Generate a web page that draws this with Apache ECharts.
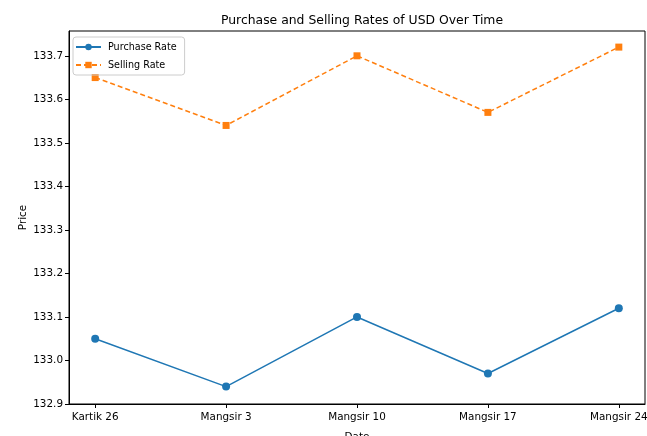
<!DOCTYPE html>
<html>
<head>
<meta charset="utf-8">
<script src="https://cdn.jsdelivr.net/npm/echarts@6/dist/echarts.min.js"></script>
<style>
  html, body { margin: 0; padding: 0; background: #fff; }
  #chart { width: 647px; height: 436px; }
</style>
</head>
<body>
<div id="chart"></div>
<script>
  var categories = ['Kartik 26', 'Mangsir 3', 'Mangsir 10', 'Mangsir 17', 'Mangsir 24'];
  var purchaseRate = [133.05, 132.94, 133.10, 132.97, 133.12];
  var sellingRate = [133.65, 133.54, 133.70, 133.57, 133.72];
  var yTicks = [132.9, 133.0, 133.1, 133.2, 133.3, 133.4, 133.5, 133.6, 133.7];

  var idx = categories.map(function (c, i) { return i; });
  function pairs(vals) {
    return vals.map(function (v, i) { return [i, v]; });
  }

  var font = 'DejaVu Sans';
  var myChart = echarts.init(document.getElementById('chart'));
  var option = {
    animation: false,
    title: {
      text: 'Purchase and Selling Rates of USD Over Time',
      left: 357,
      textAlign: 'center',
      top: 10,
      textStyle: { fontFamily: font, fontSize: 12.4, fontWeight: 'normal', color: '#000' }
    },
    legend: {
      orient: 'vertical',
      left: 73,
      top: 37,
      padding: [5, 8, 5, 2],
      itemWidth: 25,
      itemHeight: 8,
      itemGap: 8,
      borderColor: '#ccc',
      borderWidth: 1,
      borderRadius: 3,
      textStyle: { fontFamily: font, fontSize: 9.6, color: '#000', padding: [0, 0, 0, 2] },
      data: ['Purchase Rate', 'Selling Rate']
    },
    grid: {
      left: 69, right: 2, top: 31, bottom: 32,
      outerBoundsMode: 'none',
      show: true, borderColor: '#000', borderWidth: 1
    },
    xAxis: {
      type: 'value',
      min: -0.2,
      max: 4.2,
      name: 'Date',
      nameLocation: 'middle',
      nameGap: 28,
      nameTextStyle: { fontFamily: font, fontSize: 10.4, color: '#000' },
      axisLine: { show: true, onZero: false, lineStyle: { color: '#000', width: 1 } },
      axisTick: { show: true, length: 4, customValues: idx, lineStyle: { color: '#000' } },
      axisLabel: {
        customValues: idx,
        fontFamily: font, fontSize: 10.4, color: '#000', margin: 8,
        formatter: function (v) { return categories[Math.round(v)]; }
      },
      splitLine: { show: false }
    },
    yAxis: {
      type: 'value',
      min: 132.9,
      max: 133.757,
      name: 'Price',
      nameLocation: 'middle',
      nameGap: 41,
      nameMoveOverlap: false,
      nameTextStyle: { fontFamily: font, fontSize: 10.4, color: '#000' },
      axisLine: { show: true, onZero: false, lineStyle: { color: '#000', width: 1 } },
      axisTick: { show: true, length: 4, customValues: yTicks, lineStyle: { color: '#000' } },
      axisLabel: {
        customValues: yTicks,
        fontFamily: font, fontSize: 10.4, color: '#000', margin: 6,
        formatter: function (v) { return v.toFixed(1); }
      },
      splitLine: { show: false }
    },
    series: [
      {
        name: 'Purchase Rate',
        type: 'line',
        data: pairs(purchaseRate),
        color: '#1f77b4',
        symbol: 'circle',
        symbolSize: 8,
        lineStyle: { width: 1.5 },
        itemStyle: { color: '#1f77b4' }
      },
      {
        name: 'Selling Rate',
        type: 'line',
        data: pairs(sellingRate),
        color: '#ff7f0e',
        symbol: 'rect',
        symbolSize: 7,
        lineStyle: { width: 1.5, type: [5, 3] },
        itemStyle: { color: '#ff7f0e' }
      }
    ]
  };
  myChart.setOption(option);
</script>
</body>
</html>
